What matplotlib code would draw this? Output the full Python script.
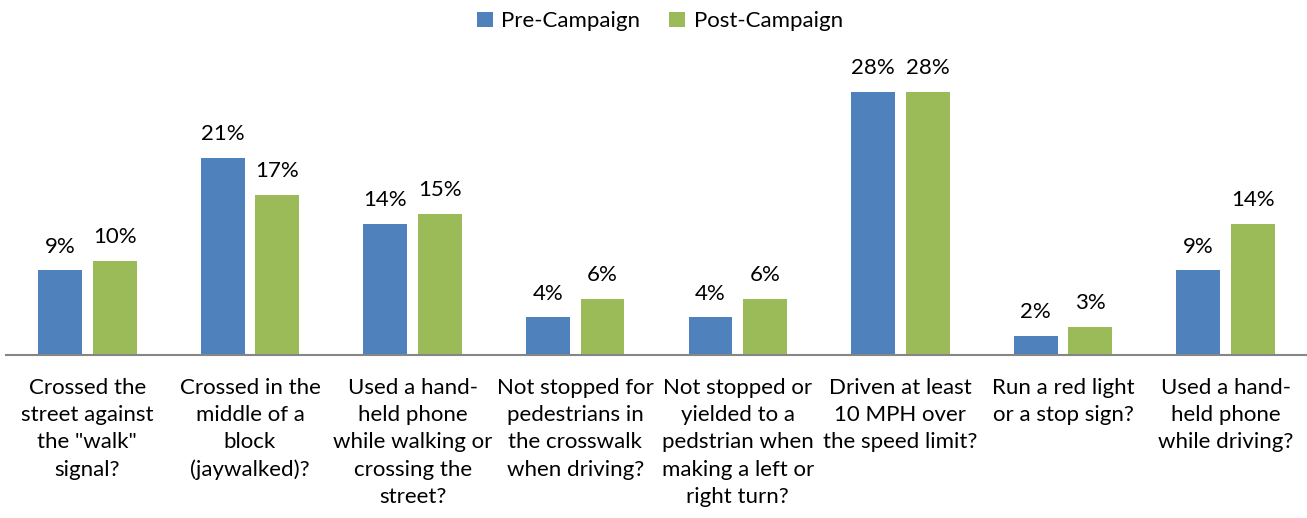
import matplotlib
matplotlib.use("Agg")
import matplotlib.pyplot as plt
import numpy as np

categories = [
    'Crossed the\nstreet against\nthe "walk"\nsignal?',
    'Crossed in the\nmiddle of a\nblock\n(jaywalked)?',
    'Used a hand-\nheld phone\nwhile walking or\ncrossing the\nstreet?',
    'Not stopped for\npedestrians in\nthe crosswalk\nwhen driving?',
    'Not stopped or\nyielded to a\npedstrian when\nmaking a left or\nright turn?',
    'Driven at least\n10 MPH over\nthe speed limit?',
    'Run a red light\nor a stop sign?',
    'Used a hand-\nheld phone\nwhile driving?',
]
pre = [9, 21, 14, 4, 4, 28, 2, 9]
post = [10, 17, 15, 6, 6, 28, 3, 14]
series_names = ["Pre-Campaign", "Post-Campaign"]

plt.rcParams['font.family'] = ['Lato', 'DejaVu Sans']
W, H = 1307, 518
fig = plt.figure(figsize=(W/100, H/100), dpi=100)
px_per = 9.39
ymax = 30
ax_h = ymax*px_per
ax = fig.add_axes([6/W, (H-355)/H, (1307-6)/W, ax_h/H])

x = np.arange(len(categories))
off = 0.168
bw = 0.27
b1 = ax.bar(x-off, pre, bw, color='#4F81BD', label=series_names[0])
b2 = ax.bar(x+off, post, bw, color='#9BBB59', label=series_names[1])
fs = 16
for bars, vals in ((b1, pre), (b2, post)):
    for r, v in zip(bars, vals):
        ax.annotate(f"{v}%", (r.get_x()+r.get_width()/2, v), xytext=(0, 10),
                    textcoords='offset points', ha='center', va='bottom', fontsize=fs, color='#000000')

ax.set_xlim(-0.5, len(categories)-0.5)
ax.set_ylim(0, ymax)
ax.set_yticks([])
ax.set_xticks(x)
ax.set_xticklabels(categories, fontsize=fs, linespacing=1.45)
ax.tick_params(axis='x', length=0, pad=16.5)
for s in ['top', 'right', 'left']:
    ax.spines[s].set_visible(False)
ax.spines['bottom'].set_color('#868686')
ax.spines['bottom'].set_linewidth(1.5)

fig.legend(handles=[b1, b2], loc='upper center', bbox_to_anchor=(660/W, 1.017), ncol=2,
           frameon=False, fontsize=fs, handlelength=0.7, handleheight=0.7,
           columnspacing=1.3, handletextpad=0.4)
fig.savefig('out.png', dpi=100)
